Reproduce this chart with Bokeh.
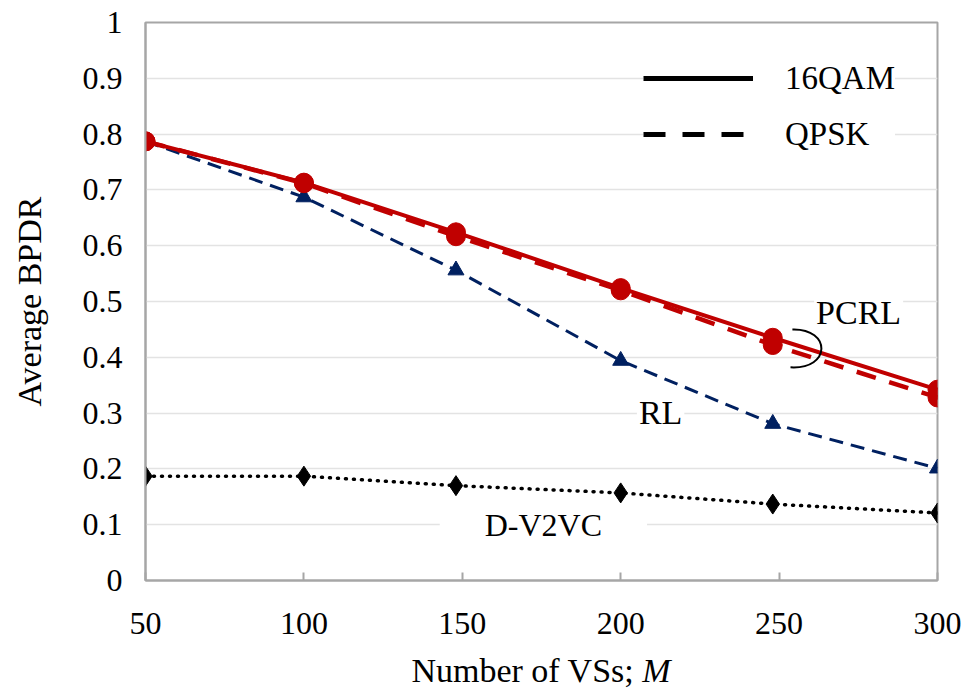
from bokeh.plotting import figure
from bokeh.models import Range1d, FixedTicker, Label, Legend, LegendItem, Div
from bokeh.layouts import column
from bokeh.embed import file_html
from bokeh.resources import INLINE

# ---- data ----
x_vals = [50, 100, 148, 200, 248, 300]
pcrl_16qam = [0.787, 0.713, 0.624, 0.524, 0.435, 0.342]
pcrl_qpsk = [0.787, 0.712, 0.617, 0.520, 0.422, 0.328]
rl = [0.787, 0.687, 0.556, 0.394, 0.281, 0.201]
d_v2vc = [0.187, 0.187, 0.170, 0.157, 0.137, 0.121]
x_ticks = [50, 100, 150, 200, 250, 300]
y_ticks = [0, 0.1, 0.2, 0.3, 0.4, 0.5, 0.6, 0.7, 0.8, 0.9, 1.0]
y_tick_labels = ["0", "0.1", "0.2", "0.3", "0.4", "0.5", "0.6", "0.7", "0.8", "0.9", "1"]

FONT = "Liberation Serif"
RED = "#C00000"
NAVY = "#002060"
GRAY = "#a6a6a6"

p = figure(width=971, height=650, output_backend="svg", toolbar_location=None,
           x_range=Range1d(50, 300), y_range=Range1d(0, 1),
           min_border_left=145, min_border_right=34, min_border_top=22, min_border_bottom=70)
p.background_fill_color = "white"
p.border_fill_color = "white"
p.outline_line_color = GRAY
p.outline_line_width = 2

# axes
p.xaxis.ticker = FixedTicker(ticks=x_ticks)
p.yaxis.ticker = FixedTicker(ticks=y_ticks)
p.yaxis.major_label_overrides = {t: s for t, s in zip(y_ticks, y_tick_labels)}
for ax in (p.xaxis, p.yaxis):
    ax.axis_line_color = GRAY
    ax.axis_line_width = 2
    ax.major_label_text_font = FONT
    ax.major_label_text_font_size = "32px"
    ax.major_label_text_color = "black"
    ax.minor_tick_line_color = None
    ax.axis_label_text_font = FONT
    ax.axis_label_text_font_size = "34px"
    ax.axis_label_text_font_style = "normal"
    ax.axis_label_text_color = "black"
p.xaxis.major_tick_in = 8
p.xaxis.major_tick_out = 0
p.xaxis.major_tick_line_color = GRAY
p.xaxis.major_tick_line_width = 2
p.xaxis.major_label_standoff = 32
p.yaxis.major_tick_line_color = None
p.yaxis.major_label_standoff = 17
p.yaxis.axis_label = "Average BPDR"
p.yaxis.axis_label_standoff = 32

p.xgrid.grid_line_color = None
p.ygrid.grid_line_color = "#e3e3e3"
p.ygrid.grid_line_width = 1.5

# series
p.line(x_vals, d_v2vc, line_color="black", line_width=3.5, line_dash="1 7", line_cap="round")
p.scatter(x_vals, d_v2vc, marker="diamond", size=20, color="black")

p.line(x_vals, rl, line_color=NAVY, line_width=3, line_dash="14 8")
p.scatter(x_vals, rl, marker="triangle", size=16, color=NAVY)

p.line(x_vals, pcrl_qpsk, line_color=RED, line_width=4.5, line_dash="20 14")
p.scatter(x_vals, pcrl_qpsk, marker="circle", size=19, color=RED)

p.line(x_vals, pcrl_16qam, line_color=RED, line_width=4)
p.scatter(x_vals, pcrl_16qam, marker="circle", size=19, color=RED)

# bracket around PCRL curves
p.bezier(x0=[254.2], y0=[0.450], x1=[253.6], y1=[0.382],
         cx0=[266.5], cy0=[0.452], cx1=[266.5], cy1=[0.378],
         line_color="black", line_width=2)

# annotations
lbl_kw = dict(text_font=FONT, text_color="black", text_align="center",
              text_baseline="middle", background_fill_color="white")
p.add_layout(Label(x=275.1, y=0.48, text="PCRL", text_font_size="34px", padding=2, **lbl_kw))
p.add_layout(Label(x=212.6, y=0.301, text="RL", text_font_size="34px", padding=2, **lbl_kw))
p.add_layout(Label(x=175.6, y=0.100, text="D-V2VC", text_font_size="32px", padding=[45, 2], **lbl_kw))

# legend (proxy renderers with no visible data)
nan = float("nan")
r1 = p.line([x_vals[0]], [nan], line_color="black", line_width=5)
r2 = p.line([x_vals[0]], [nan], line_color="black", line_width=5, line_dash="22 17")
legend = Legend(items=[LegendItem(label="16QAM", renderers=[r1]),
                       LegendItem(label="QPSK", renderers=[r2])],
                location=(498, 426), orientation="vertical")
legend.glyph_width = 110
legend.glyph_height = 40
legend.spacing = 16
legend.padding = 0
legend.margin = 0
legend.label_standoff = 32
legend.label_text_font = FONT
legend.label_text_font_size = "33px"
legend.label_text_color = "black"
legend.label_text_baseline = "middle"
legend.border_line_color = None
legend.background_fill_color = "white"
legend.background_fill_alpha = 1
p.add_layout(legend)

# x-axis title with italic M
xtitle = Div(text=('<div style="width:792px;margin-left:145px;text-align:center;'
                   'font-family:\'Liberation Serif\';font-size:34px;line-height:42px;color:black;">'
                   'Number of VSs; <i>M</i></div>'),
             width=971, height=48, margin=0)

layout = column(p, xtitle, spacing=0)
open("out.html", "w").write(file_html(layout, INLINE))
